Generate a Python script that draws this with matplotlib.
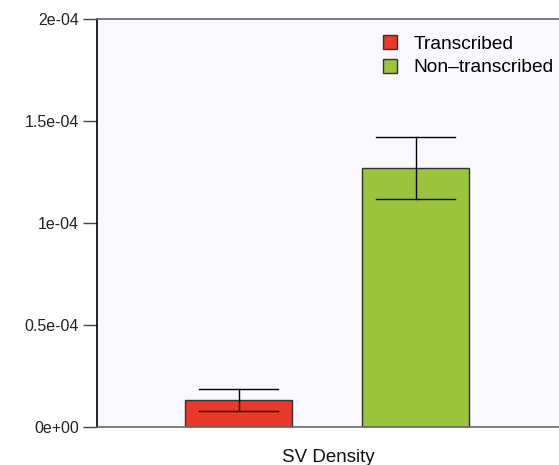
import numpy as np
import matplotlib
matplotlib.use('Agg')
import matplotlib.pyplot as plt
from matplotlib.patches import Patch

plt.rcParams['font.family'] = ['Liberation Sans', 'DejaVu Sans']

# SV density per group, with error bar half-widths
groups = ['Transcribed', 'Non\u2013transcribed']
density = [1.32e-5, 1.27e-4]
err = [0.54e-5, 0.15e-4]
colors = ['#e8392a', '#9ac43c']
yticks = [0, 0.5e-4, 1e-4, 1.5e-4, 2e-4]
ytick_labels = ['0e+00', '0.5e-04', '1e-04', '1.5e-04', '2e-04']

fig = plt.figure(figsize=(5.59, 4.65), dpi=100)
ax = fig.add_axes([97 / 559, 1 - 427 / 465, 1 - 97 / 559, 408 / 465])
ax.set_facecolor('#f8f8fe')

x = np.arange(1, len(groups) + 1)
ax.bar(x, density, width=0.605, color=colors, edgecolor='#333333', linewidth=1, zorder=2)

# error bars: vertical stem + caps
for xi, d, e in zip(x, density, err):
    ax.plot([xi, xi], [d - e, d + e], color='black', lw=1, zorder=3)
    ax.plot([xi - 0.225, xi + 0.225], [d + e, d + e], color='black', lw=1, zorder=3)
    ax.plot([xi - 0.225, xi + 0.225], [d - e, d - e], color='black', lw=1, zorder=3)

ax.set_xlim(0.2, 2.81)
ax.set_ylim(0, 2e-4)
ax.set_yticks(yticks)
ax.set_yticklabels(ytick_labels, fontsize=11.5, color='#222222')
ax.tick_params(axis='y', direction='out', length=10, width=1, color='#444444', pad=3)
ax.set_xticks([])
ax.set_xlabel('SV Density', fontsize=13.5, labelpad=16, color='#111111')

ax.spines['right'].set_visible(False)
ax.spines['left'].set_color('black')
ax.spines['top'].set_color('#666666')
ax.spines['bottom'].set_color('#666666')
for s in ax.spines.values():
    s.set_linewidth(1.2)

handles = [Patch(facecolor=c, edgecolor='#333333', label=g) for c, g in zip(colors, groups)]
ax.legend(handles=handles, loc='upper left', bbox_to_anchor=(0.619, 0.96), frameon=False,
          fontsize=13.8, handlelength=0.75, handleheight=0.75, handletextpad=0.85,
          labelspacing=0.3, borderpad=0, borderaxespad=0)

fig.savefig('out.png', dpi=100)
